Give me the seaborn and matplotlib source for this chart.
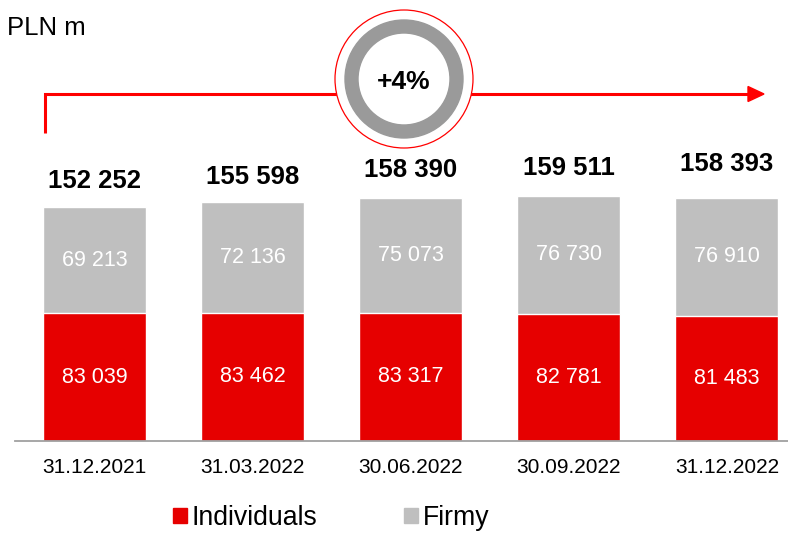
import matplotlib
matplotlib.use("Agg")
import matplotlib.pyplot as plt
import matplotlib.patches as mpatches
import seaborn as sns
import pandas as pd

# --- data ---
dates = ["31.12.2021", "31.03.2022", "30.06.2022", "30.09.2022", "31.12.2022"]
individuals = [83039, 83462, 83317, 82781, 81483]
firmy = [69213, 72136, 75073, 76730, 76910]
growth_label = "+4%"
unit_label = "PLN m"

RED = "#E60000"
GREY = "#BFBFBF"
ARROW = "#FF0000"
RING = "#9A9A9A"

sns.set_theme(style="white")
plt.rcParams["font.family"] = ["Liberation Sans", "DejaVu Sans"]
plt.rcParams["text.color"] = "black"

totals = [a + b for a, b in zip(individuals, firmy)]
df = pd.DataFrame({"date": dates, "Individuals": individuals,
                   "Firmy": firmy, "total": totals})


def fmt(v):
    return f"{v:,}".replace(",", " ")


W, H = 788, 534
fig = plt.figure(figsize=(W / 100, H / 100), dpi=100)

# bar axes: baseline at y=441 px, 158 px per category
left_px, base_px = 15.4, 441
px_per_unit = 0.001537
ax = fig.add_axes([left_px / W, (H - base_px) / H, 774.7 / W, base_px / H])

# stacked bars: total (grey) behind, individuals (red) in front
sns.barplot(data=df, x="date", y="total", color=GREY, width=0.65,
            saturation=1, ax=ax)
sns.barplot(data=df, x="date", y="Individuals", color=RED, width=0.65,
            saturation=1, ax=ax)

ax.set_xlim(-0.5, 4.4)
ax.set_ylim(0, base_px / px_per_unit)
ax.set_xlabel("")
ax.set_ylabel("")
ax.set_yticks([])
for s in ["top", "left", "right"]:
    ax.spines[s].set_visible(False)
ax.spines["bottom"].set_color("#A0A0A0")
ax.spines["bottom"].set_linewidth(1.3)
ax.tick_params(axis="x", length=0, pad=12, labelsize=15, colors="black")

# small manual nudges of the total labels, as in the source slide
total_offsets = [19, 18, 20, 20, 24]
for i in range(len(dates)):
    ax.text(i, individuals[i] / 2, fmt(individuals[i]), ha="center",
            va="center", color="white", fontsize=15.5)
    ax.text(i, individuals[i] + firmy[i] / 2, fmt(firmy[i]), ha="center",
            va="center", color="white", fontsize=15.5)
    ax.annotate(fmt(totals[i]), (i, totals[i]), xytext=(0, total_offsets[i]),
                textcoords="offset points", ha="center", va="center",
                fontsize=18.5, fontweight="bold", color="black")

# overlay in pixel coordinates for the arrow and growth badge
ov = fig.add_axes([0, 0, 1, 1])
ov.set_xlim(0, W)
ov.set_ylim(H, 0)
ov.axis("off")

ov.plot([45, 45, 750], [133, 94, 94], color=ARROW, lw=2.2,
        solid_joinstyle="miter", solid_capstyle="butt", zorder=1)
ov.add_patch(mpatches.Polygon([[748, 86.5], [764, 94], [748, 101.5]],
                              closed=True, color=ARROW, zorder=1))

cx, cy = 404, 79
ov.add_patch(mpatches.Circle((cx, cy), 69, facecolor="white",
                             edgecolor=ARROW, lw=0.9, zorder=2))
ov.add_patch(mpatches.Wedge((cx, cy), 59, 0, 360, width=13,
                            color=RING, zorder=3))
ov.text(cx, cy + 3, growth_label, ha="center", va="center",
        fontsize=19, fontweight="bold", color="black", zorder=4)

ov.text(7, 28, unit_label, ha="left", va="center", fontsize=18.5,
        color="black")

handles = [mpatches.Patch(color=RED, label="Individuals"),
           mpatches.Patch(color=GREY, label="Firmy")]
fig.legend(handles=handles, loc="center left",
           bbox_to_anchor=(173 / W, (H - 518) / H), ncol=2, frameon=False,
           fontsize=19.2, handlelength=0.52, handleheight=0.52,
           handletextpad=0.19, columnspacing=3.25, borderpad=0,
           borderaxespad=0, labelcolor="black")

fig.savefig("out.png", dpi=100)
